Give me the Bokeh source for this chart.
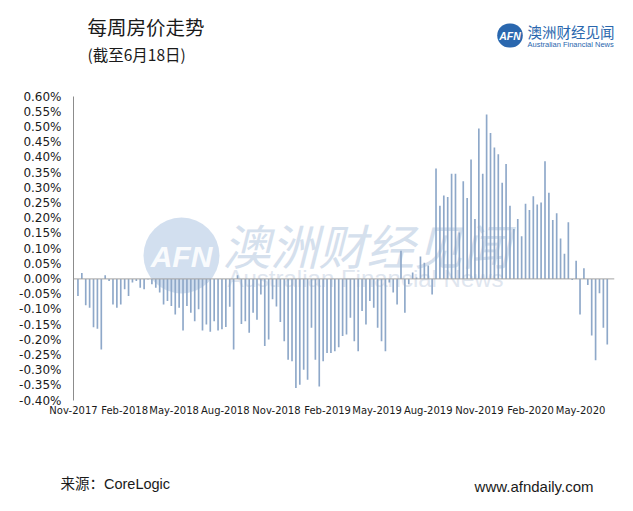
import pandas as pd
from bokeh.plotting import figure
from bokeh.models import Range1d, FixedTicker, PrintfTickFormatter, Span, Label
from bokeh.embed import file_html
from bokeh.resources import INLINE
from bokeh.core.properties import value

# ---------------- texts ----------------
title_text = "每周房价走势"
subtitle_text = "(截至6月18日)"
source_text = "来源：CoreLogic"
site_text = "www.afndaily.com"
logo_mark = "AFN"
logo_cn = "澳洲财经见闻"
logo_en = "Australian Financial News"

# ---------------- data (weekly change, %) ----------------
first_week = "2017-11-09"
change_2017 = [-0.056, 0.019, -0.087, -0.095, -0.159, -0.164, -0.232, 0.012]
change_2018 = [-0.007, -0.084, -0.095, -0.084, -0.034, -0.056, -0.012, -0.007,
               -0.029, -0.034, -0.002, -0.018, -0.029, -0.045, -0.084, -0.073,
               -0.089, -0.117, -0.095, -0.170, -0.089, -0.111, -0.139, -0.100,
               -0.170, -0.150, -0.174, -0.139, -0.170, -0.166, -0.158, -0.092,
               -0.232, 0.012, -0.148, -0.139, -0.177, -0.111, -0.134, -0.051,
               -0.221, -0.199, -0.067, -0.091, -0.142, -0.205, -0.266, -0.271,
               -0.359, -0.348, -0.299, -0.332]
change_2019 = [-0.161, -0.266, -0.354, -0.271, -0.244, -0.244, -0.238, -0.225,
               -0.188, -0.183, -0.128, -0.205, -0.238, -0.106, -0.150, -0.073,
               -0.095, -0.161, -0.205, -0.238, -0.012, -0.045, -0.084, 0.093,
               -0.111, -0.018, 0.021, 0.005, 0.074, 0.053, 0.044, -0.051,
               0.363, 0.241, 0.274, 0.269, 0.346, 0.346, 0.153, 0.321,
               0.266, 0.393, 0.197, 0.495, 0.346, 0.541, 0.480, 0.432,
               0.410, 0.316, 0.378, 0.241]
change_2020 = [0.164, 0.197, 0.140, 0.247, 0.227, 0.272, 0.245, 0.251,
               0.387, 0.283, 0.194, 0.216, 0.133, 0.083, 0.186, -0.004,
               0.060, -0.117, 0.035, -0.020, -0.186, -0.268, -0.047, -0.161,
               -0.216]
weekly_change = change_2017 + change_2018 + change_2019 + change_2020
weeks = pd.date_range(first_week, periods=len(weekly_change), freq="7D")

x_tick_dates = ["2017-11-01", "2018-02-01", "2018-05-01", "2018-08-01",
                "2018-11-01", "2019-02-01", "2019-05-01", "2019-08-01",
                "2019-11-01", "2020-02-01", "2020-05-01"]
x_tick_labels = ["Nov-2017", "Feb-2018", "May-2018", "Aug-2018", "Nov-2018",
                 "Feb-2019", "May-2019", "Aug-2019", "Nov-2019", "Feb-2020",
                 "May-2020"]
y_ticks = [-0.40, -0.35, -0.30, -0.25, -0.20, -0.15, -0.10, -0.05, 0.00,
           0.05, 0.10, 0.15, 0.20, 0.25, 0.30, 0.35, 0.40, 0.45, 0.50, 0.55, 0.60]
x_start, x_end = "2017-11-01", "2020-07-01"

CJK = "Noto Sans CJK SC"
MIX = "Liberation Sans, Noto Sans CJK SC"
BLUE = "#2a67ae"

# frame box in page pixels
FL, FR, FT, FB = 73, 614, 96, 400
FIG_W, FIG_H = 625, 503

p = figure(width=FIG_W, height=FIG_H, x_axis_type="datetime",
           x_range=Range1d(pd.Timestamp(x_start), pd.Timestamp(x_end)),
           y_range=Range1d(-0.40, 0.60), toolbar_location=None,
           output_backend="svg",
           min_border_left=FL, min_border_right=FIG_W - FR,
           min_border_top=FT, min_border_bottom=FIG_H - FB)
p.grid.visible = False
p.outline_line_color = None

# page-pixel coordinate system for decorations (y grows downward)
p.extra_x_ranges["pg"] = Range1d(FL, FR)
p.extra_y_ranges["pg"] = Range1d(FB, FT)

# watermark
p.circle(x=[181], y=[255], radius=38, fill_color="#bfd2e8", fill_alpha=0.7,
         line_color=None, x_range_name="pg", y_range_name="pg")
p.text(x=[181], y=[256], text=[logo_mark], text_font=value("Liberation Sans"),
       text_font_style="bold italic", text_font_size=value("30px"),
       text_baseline="middle", text_align="center", text_color="white",
       text_alpha=0.9, x_range_name="pg", y_range_name="pg")
p.text(x=[222], y=[243], text=[logo_cn], text_font=value(CJK),
       text_font_style="italic", text_font_size=value("48px"),
       text_baseline="middle", text_align="left", text_color="#d5e0ed",
       x_range_name="pg", y_range_name="pg")
p.text(x=[227], y=[278], text=[logo_en], text_font=value("Liberation Sans"),
       text_font_size=value("24px"), text_baseline="middle", text_align="left",
       text_color="#dfe6ef", x_range_name="pg", y_range_name="pg")

# bars
p.vbar(x=weeks, top=weekly_change, bottom=0, width=3 * 86400000,
       fill_color="#8ea8c9", line_color=None)
p.add_layout(Span(location=0, dimension="width", line_color="#a3a3a3", line_width=1))

# axes
p.yaxis.ticker = FixedTicker(ticks=y_ticks)
p.yaxis.formatter = PrintfTickFormatter(format="%.2f%%")
p.yaxis.major_tick_line_color = None
p.yaxis.minor_tick_line_color = None
p.yaxis.major_tick_out = 0
p.yaxis.major_tick_in = 0
p.yaxis.minor_tick_out = 0
p.yaxis.axis_line_color = "#8c8c8c"
p.yaxis.major_label_text_font = "DejaVu Sans"
p.yaxis.major_label_text_font_size = "12px"
p.yaxis.major_label_text_color = "#1a1a1a"
p.yaxis.major_label_standoff = 12

x_tick_ms = [float(pd.Timestamp(d).value // 10**6) for d in x_tick_dates]
p.xaxis.ticker = FixedTicker(ticks=x_tick_ms)
p.xaxis.major_label_overrides = dict(zip(x_tick_ms, x_tick_labels))
p.xaxis.axis_line_color = None
p.xaxis.major_tick_line_color = None
p.xaxis.minor_tick_line_color = None
p.xaxis.major_tick_out = 0
p.xaxis.major_tick_in = 0
p.xaxis.minor_tick_out = 0
p.xaxis.major_label_text_font = "DejaVu Sans"
p.xaxis.major_label_text_font_size = "10px"
p.xaxis.major_label_text_color = "#1a1a1a"
p.xaxis.major_label_standoff = 4


def add_label(place, x, y, text, font, size, color="#1a1a1a", align="left",
              style="normal", **kw):
    # labels live in side panels (not clipped), positioned in page pixels
    p.add_layout(Label(x=x, y=y, text=text, x_range_name="pg", y_range_name="pg",
                       text_font=font, text_font_size=size, text_color=color,
                       text_align=align, text_baseline="middle",
                       text_font_style=style, **kw), place)


# header
add_label("above", 87, 26, title_text, CJK, "19.5px")
add_label("above", 509.5, 35, logo_mark, "Liberation Sans", "10.5px", color="white",
          align="center", style="bold italic", background_fill_color=BLUE,
          border_radius=13, padding=dict(left=2, right=2, top=6, bottom=6))
add_label("above", 527, 31, logo_cn, CJK, "14.5px", color=BLUE)
add_label("below", 87, 53, subtitle_text, CJK, "15.5px")
add_label("below", 527, 43.5, logo_en, "Liberation Sans", "7.5px", color=BLUE)

# footer
add_label("below", 60, 483, source_text, MIX, "14.5px")
add_label("below", 593, 486, site_text, "Liberation Sans", "15px", align="right")

open("out.html", "w").write(file_html(p, INLINE))
